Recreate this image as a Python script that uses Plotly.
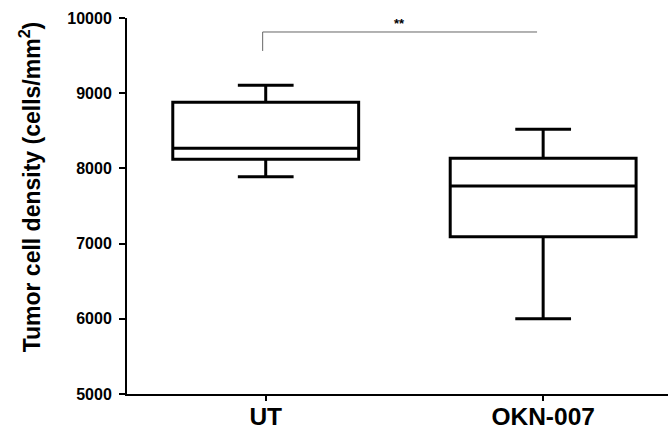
import plotly.graph_objects as go

groups = ["UT", "OKN-007"]
positions = [0, 1]
lower_whisker = [7890, 6000]
q1_vals = [8121, 7092]
median_vals = [8267, 7766]
q3_vals = [8879, 8134]
upper_whisker = [9105, 8520]

y_ticks = [5000, 6000, 7000, 8000, 9000, 10000]
y_tick_labels = ["5000", "6000", "7000", "8000", "9000", "10000"]
y_title = "Tumor cell density (cells/mm<sup>2</sup>)"
sig_label = "**"
sig_left, sig_right = -0.011, 0.978
sig_y_top, sig_y_left_bottom = 9814, 9562

FONT = "Liberation Sans, Arial, sans-serif"

fig = go.Figure()
fig.add_trace(go.Box(
    x=positions,
    q1=q1_vals, median=median_vals, q3=q3_vals,
    lowerfence=lower_whisker, upperfence=upper_whisker,
    width=0.67, whiskerwidth=0.3,
    line=dict(color="black", width=3),
    fillcolor="rgba(255,255,255,0)",
    boxpoints=False, showlegend=False, hoverinfo="skip",
))

# significance bracket
fig.add_shape(type="line", xref="x", yref="y", x0=sig_left, x1=sig_right,
              y0=sig_y_top, y1=sig_y_top, line=dict(color="#666666", width=1))
fig.add_shape(type="line", xref="x", yref="y", x0=sig_left, x1=sig_left,
              y0=sig_y_top, y1=sig_y_left_bottom, line=dict(color="#666666", width=1))
fig.add_annotation(x=(sig_left + sig_right) / 2, y=sig_y_top, xref="x", yref="y",
                   text=sig_label, showarrow=False, yanchor="bottom", yshift=-1,
                   font=dict(family=FONT, size=13, color="black", weight="bold"))

# y-axis title (placed slightly above the axis centre, as in the reference)
fig.add_annotation(x=-0.179, y=0.55, xref="paper", yref="paper",
                   text=y_title, textangle=-90, showarrow=False,
                   xanchor="center", yanchor="middle",
                   font=dict(family=FONT, size=23, color="black", weight="bold"))

fig.update_layout(
    width=670, height=430,
    margin=dict(l=127, r=2, t=18, b=36, autoexpand=False),
    paper_bgcolor="white", plot_bgcolor="white",
    font=dict(family=FONT, color="black"),
)
fig.update_xaxes(
    range=[-0.5, 1.45], tickvals=positions, ticktext=groups,
    showline=True, linecolor="black", linewidth=2,
    ticks="outside", ticklen=5, tickwidth=2, tickcolor="black",
    ticklabelstandoff=-5,
    showgrid=False, zeroline=False, automargin=False,
    tickfont=dict(family=FONT, size=24.5, color="black", weight="bold"),
)
fig.update_yaxes(
    range=[5000, 10000], tickvals=y_ticks, ticktext=y_tick_labels,
    showline=True, linecolor="black", linewidth=2,
    ticks="outside", ticklen=6, tickwidth=2, tickcolor="black",
    ticklabelstandoff=4,
    showgrid=False, zeroline=False, automargin=False,
    tickfont=dict(family=FONT, size=16, color="black", weight="bold"),
)

fig.write_html(
    "out.html",
    config={"displayModeBar": False},
    post_script="document.body.style.margin='0';document.body.style.overflow='hidden';",
)
